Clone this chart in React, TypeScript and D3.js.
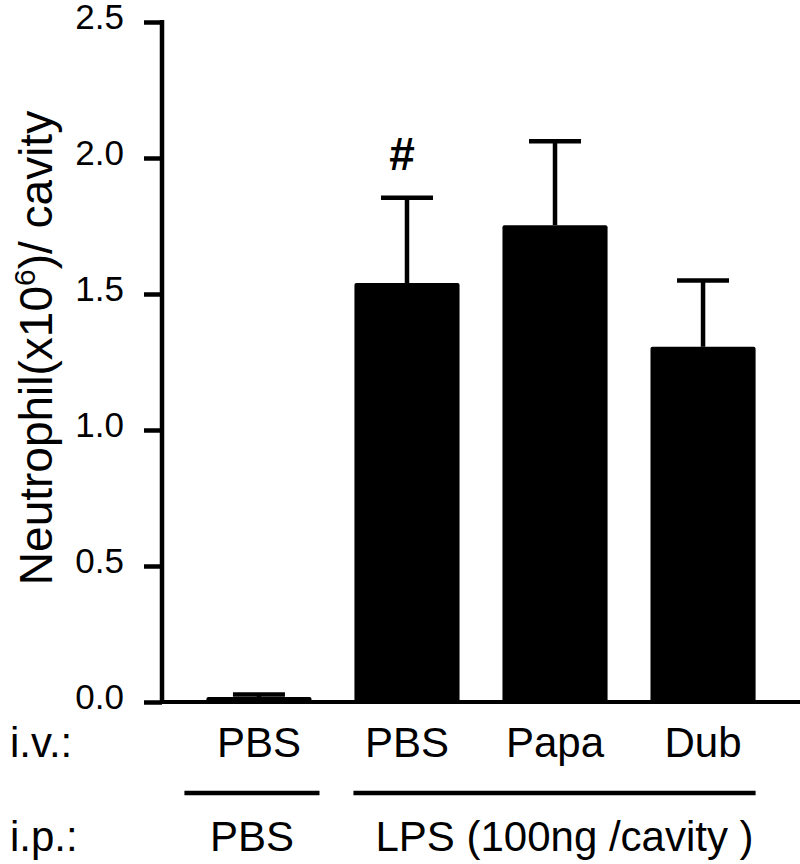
import React, { useEffect, useRef } from 'react';
import * as d3 from 'd3';

// values
const groups = ['PBS', 'PBS', 'Papa', 'Dub'];
const means = [0.018, 1.54, 1.753, 1.306];
const errors = [0.01, 0.314, 0.309, 0.244];
const marks = ['', '#', '', ''];
const yTicks = [0, 0.5, 1.0, 1.5, 2.0, 2.5];
const ipLabels = ['PBS', 'LPS (100ng /cavity )'];
const ipSpans = [
  [0, 0],
  [1, 3],
];

export default function App() {
  const svgRef = useRef<SVGSVGElement>(null);

  useEffect(() => {
    const w = 800;
    const h = 864;
    const svg = d3.select(svgRef.current).attr('width', w).attr('height', h);
    svg.selectAll('*').remove();

    const font = 'Liberation Sans, Arial, sans-serif';
    const left = 162;
    const base = 702;

    const x = d3
      .scaleBand<number>()
      .domain(d3.range(groups.length))
      .range([left, 800])
      .paddingInner(0.29)
      .paddingOuter(0.3);
    const y = d3.scaleLinear().domain([0, 2.5]).range([base, 22]);

    // bars
    svg
      .selectAll('.bar')
      .data(means)
      .join('rect')
      .attr('x', (d, i) => x(i)!)
      .attr('y', (d) => y(d))
      .attr('width', x.bandwidth())
      .attr('height', (d) => base - y(d))
      .attr('rx', 2)
      .attr('fill', '#000');

    // error bars (upper only)
    const capW = 52;
    const err = svg.append('g');
    means.forEach((m, i) => {
      const cx = x(i)! + x.bandwidth() / 2;
      err
        .append('line')
        .attr('x1', cx)
        .attr('x2', cx)
        .attr('y1', y(m))
        .attr('y2', y(m + errors[i]))
        .attr('stroke', '#000')
        .attr('stroke-width', 4.5);
      err
        .append('line')
        .attr('x1', cx - capW / 2)
        .attr('x2', cx + capW / 2)
        .attr('y1', y(m + errors[i]))
        .attr('y2', y(m + errors[i]))
        .attr('stroke', '#000')
        .attr('stroke-width', 4.5);
      if (marks[i]) {
        err
          .append('text')
          .attr('x', cx - 5)
          .attr('y', y(m + errors[i]) - 28)
          .attr('text-anchor', 'middle')
          .attr('font-family', font)
          .attr('font-weight', 'bold')
          .attr('font-size', 46)
          .text(marks[i]);
      }
    });

    // y axis
    const yAxis = d3
      .axisLeft(y)
      .tickValues(yTicks)
      .tickSize(18)
      .tickPadding(20)
      .tickFormat(d3.format('.1f'));
    const ya = svg
      .append('g')
      .attr('transform', `translate(${left},0)`)
      .call(yAxis);
    ya.select('.domain').remove();
    ya.selectAll('line').attr('stroke-width', 4.5);
    ya.selectAll('text')
      .attr('font-family', font)
      .attr('font-size', 35)
      .attr('dy', null)
      .attr('y', 6);
    svg
      .append('line')
      .attr('x1', left)
      .attr('x2', left)
      .attr('y1', y(2.5) - 2)
      .attr('y2', base + 2)
      .attr('stroke', '#000')
      .attr('stroke-width', 4.5);

    // x baseline
    svg
      .append('line')
      .attr('x1', left)
      .attr('x2', 800)
      .attr('y1', base)
      .attr('y2', base)
      .attr('stroke', '#000')
      .attr('stroke-width', 4);

    // y title
    const title = svg
      .append('text')
      .attr('transform', `translate(52,348) rotate(-90)`)
      .attr('text-anchor', 'middle')
      .attr('font-family', font)
      .attr('font-size', 46);
    title.append('tspan').text('Neutrophil(x10');
    title.append('tspan').attr('font-size', 30).attr('dy', -17).text('6');
    title.append('tspan').attr('dy', 17).text(')/ cavity');

    // i.v. row
    svg
      .append('text')
      .attr('x', 10)
      .attr('y', 757)
      .attr('font-family', font)
      .attr('font-size', 42)
      .text('i.v.:');
    svg
      .selectAll('.iv')
      .data(groups)
      .join('text')
      .attr('x', (d, i) => x(i)! + x.bandwidth() / 2)
      .attr('y', 757)
      .attr('text-anchor', 'middle')
      .attr('font-family', font)
      .attr('font-size', 42)
      .text((d) => d);

    // i.p. row
    ipLabels.forEach((label, k) => {
      const [a, b] = ipSpans[k];
      const x1 = k === 0 ? x(a)! - 22 : x(a)! - 1;
      const x2 = x(b)! + x.bandwidth() + (k === 0 ? 8 : 0);
      svg
        .append('line')
        .attr('x1', x1)
        .attr('x2', x2)
        .attr('y1', 793)
        .attr('y2', 793)
        .attr('stroke', '#000')
        .attr('stroke-width', 4.5);
      svg
        .append('text')
        .attr('x', (x1 + x2) / 2 + (k === 0 ? 0 : 10))
        .attr('y', 851)
        .attr('text-anchor', 'middle')
        .attr('font-family', font)
        .attr('font-size', 42)
        .text(label);
    });
    svg
      .append('text')
      .attr('x', 10)
      .attr('y', 851)
      .attr('font-family', font)
      .attr('font-size', 42)
      .text('i.p.:');
  }, []);

  return (
    <svg
      ref={svgRef}
      style={{ position: 'absolute', top: 0, left: 0, display: 'block' }}
    ></svg>
  );
}
